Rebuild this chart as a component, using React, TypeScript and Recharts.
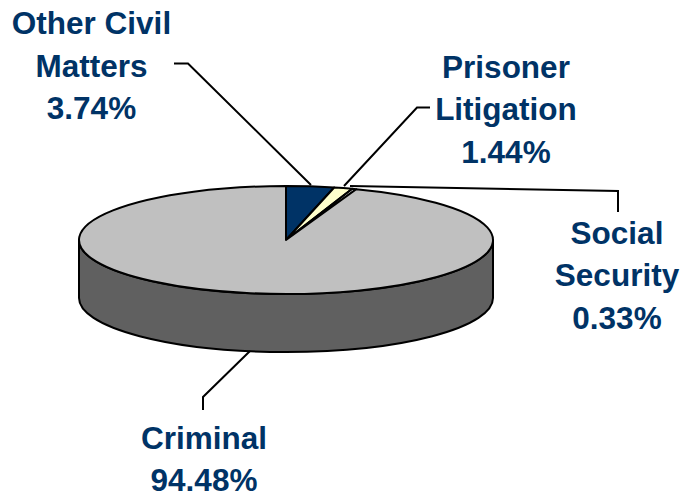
import { PieChart, Pie, Cell } from 'recharts'

const categories = ['Other Civil Matters', 'Prisoner Litigation', 'Social Security', 'Criminal']
const shares = [3.74, 1.44, 0.33, 94.48]
const shareLabels = ['3.74%', '1.44%', '0.33%', '94.48%']
const colors = ['#003366', '#FFFFCC', '#FFFFFF', '#C0C0C0']

const data = categories.map((name, i) => ({ name, value: shares[i] }))

const NAVY = '#003366'
const WALL = '#606060'
const SQUASH = 54 / 207
const DEPTH = 58

// label text lines, centre x, first baseline, and the leader line for each slice
const labelLines = [['Other Civil', 'Matters'], ['Prisoner', 'Litigation'], ['Social', 'Security'], ['Criminal']]
const labelX = [91.5, 506, 617, 204]
const labelY = [34, 77.5, 243.5, 448.5]
const leaders = [
  '174,63.5 188,63.5 311,185',
  '430,107.5 417,107.5 344,186',
  '618,212 618,191 350,186',
  '203,410 203,397 250,351',
]

function EllipseSlice(props: any) {
  const { cx, cy, outerRadius: r, startAngle, endAngle, fill } = props
  const px = (a: number) => cx + r * Math.cos((a * Math.PI) / 180)
  const py = (a: number) => cy - r * SQUASH * Math.sin((a * Math.PI) / 180)
  const ry = r * SQUASH
  const large = Math.abs(startAngle - endAngle) > 180 ? 1 : 0
  const top = `M${cx},${cy} L${px(startAngle)},${py(startAngle)} A${r},${ry} 0 ${large} 1 ${px(endAngle)},${py(endAngle)} Z`

  // side wall only where the slice faces the viewer
  const hi = Math.min(startAngle, 0)
  const lo = Math.max(endAngle, -180)
  const wall =
    hi > lo
      ? `M${px(hi)},${py(hi)} A${r},${ry} 0 0 1 ${px(lo)},${py(lo)} L${px(lo)},${py(lo) + DEPTH} A${r},${ry} 0 0 0 ${px(hi)},${py(hi) + DEPTH} Z`
      : null

  return (
    <g>
      {wall && <path d={wall} fill={WALL} stroke="#000" strokeWidth={2} strokeLinejoin="round" />}
      <path d={top} fill={fill} stroke="#000" strokeWidth={2} strokeLinejoin="round" />
    </g>
  )
}

function renderLabel(props: any) {
  const i = props.index
  const lines = [...labelLines[i], shareLabels[i]]
  return (
    <g key={i}>
      <polyline points={leaders[i]} fill="none" stroke="#000" strokeWidth={2} />
      <text
        textAnchor="middle"
        fontFamily="'Liberation Sans', Arial, sans-serif"
        fontWeight="bold"
        fontSize={31.5}
        fill={NAVY}
      >
        {lines.map((line, k) => (
          <tspan key={k} x={labelX[i]} y={labelY[i] + k * 42.5}>
            {line}
          </tspan>
        ))}
      </text>
    </g>
  )
}

export default function App() {
  return (
    <div style={{ position: 'absolute', left: 0, top: 0, width: 685, height: 494, background: '#fff' }}>
      <PieChart width={685} height={494} margin={{ top: 0, right: 0, bottom: 0, left: 0 }}>
        <Pie
          data={data}
          dataKey="value"
          nameKey="name"
          cx={286}
          cy={240}
          innerRadius={0}
          outerRadius={207}
          startAngle={90}
          endAngle={-270}
          shape={EllipseSlice}
          label={renderLabel}
          labelLine={false}
          isAnimationActive={false}
        >
          {data.map((entry, index) => (
            <Cell key={`cell-${index}`} fill={colors[index]} />
          ))}
        </Pie>
      </PieChart>
    </div>
  )
}
